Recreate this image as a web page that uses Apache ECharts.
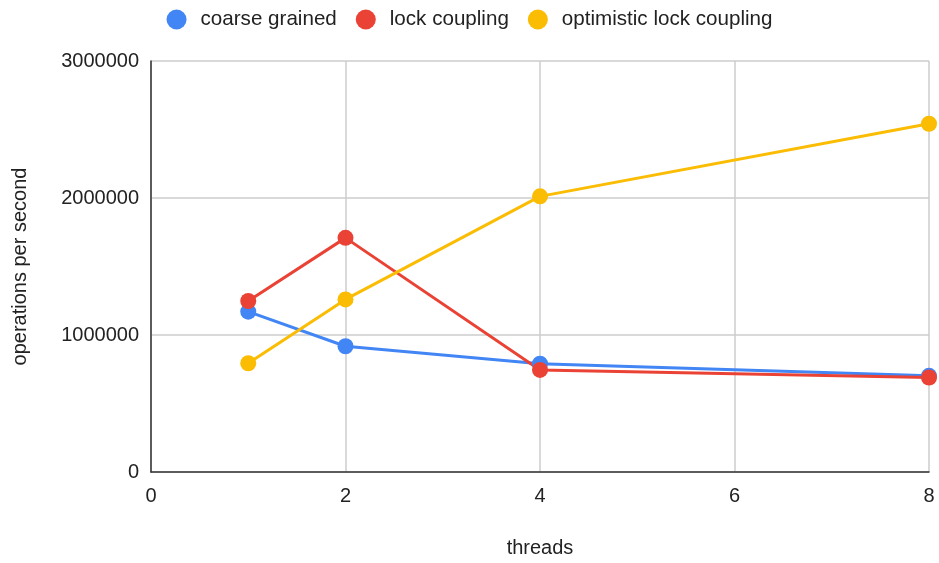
<!DOCTYPE html>
<html>
<head>
<meta charset="utf-8">
<script src="https://cdn.jsdelivr.net/npm/echarts@6/dist/echarts.min.js"></script>
<style>
  html, body { margin: 0; padding: 0; background: #fff; }
  #chart { width: 939px; height: 563px; }
</style>
</head>
<body>
<div id="chart"></div>
<script>
// Throughput of three B-tree locking schemes by thread count
const threads = [1, 2, 4, 8];
const coarseGrained = [1170000, 918000, 790000, 702000];
const lockCoupling = [1248000, 1709000, 745000, 690000];
const optimisticLockCoupling = [794000, 1260000, 2012000, 2542000];
const seriesNames = ['coarse grained', 'lock coupling', 'optimistic lock coupling'];
const colors = ['#4285F4', '#EA4335', '#FBBC04'];

const FONT = '"Liberation Sans", Arial, sans-serif';

function pairs(values) {
  return threads.map((t, i) => [t, values[i]]);
}

const chart = echarts.init(document.getElementById('chart'));
chart.setOption({
  animation: false,
  color: colors,
  textStyle: { fontFamily: FONT },
  legend: {
    top: 4,
    left: 'center',
    icon: 'circle',
    itemWidth: 38,
    itemHeight: 20,
    itemGap: 19,
    textStyle: { fontSize: 20.6, color: '#222', fontFamily: FONT },
    data: seriesNames
  },
  grid: { left: 151, right: 10, top: 61, bottom: 90 },
  xAxis: {
    type: 'value',
    min: 0,
    max: 8,
    interval: 2,
    name: 'threads',
    nameLocation: 'middle',
    nameGap: 66,
    nameTextStyle: { fontSize: 20, color: '#222' },
    axisLine: { show: true, lineStyle: { color: '#333', width: 1.5 } },
    axisTick: { show: false },
    axisLabel: { fontSize: 20, color: '#222', margin: 14 },
    splitLine: { show: true, lineStyle: { color: '#ccc', width: 1.5 } }
  },
  yAxis: {
    type: 'value',
    min: 0,
    max: 3000000,
    interval: 1000000,
    name: 'operations per second',
    nameLocation: 'middle',
    nameGap: 121,
    nameTextStyle: { fontSize: 20, color: '#222' },
    axisLine: { show: true, lineStyle: { color: '#333', width: 1.5 } },
    axisTick: { show: false },
    axisLabel: { fontSize: 20, color: '#222', margin: 12, formatter: v => String(v) },
    splitLine: { show: true, lineStyle: { color: '#ccc', width: 1.5 } }
  },
  series: [
    { name: seriesNames[0], data: pairs(coarseGrained) },
    { name: seriesNames[1], data: pairs(lockCoupling) },
    { name: seriesNames[2], data: pairs(optimisticLockCoupling) }
  ].map(s => Object.assign({
    type: 'line',
    symbol: 'circle',
    symbolSize: 16,
    lineStyle: { width: 3 },
    clip: false
  }, s))
});
</script>
</body>
</html>
